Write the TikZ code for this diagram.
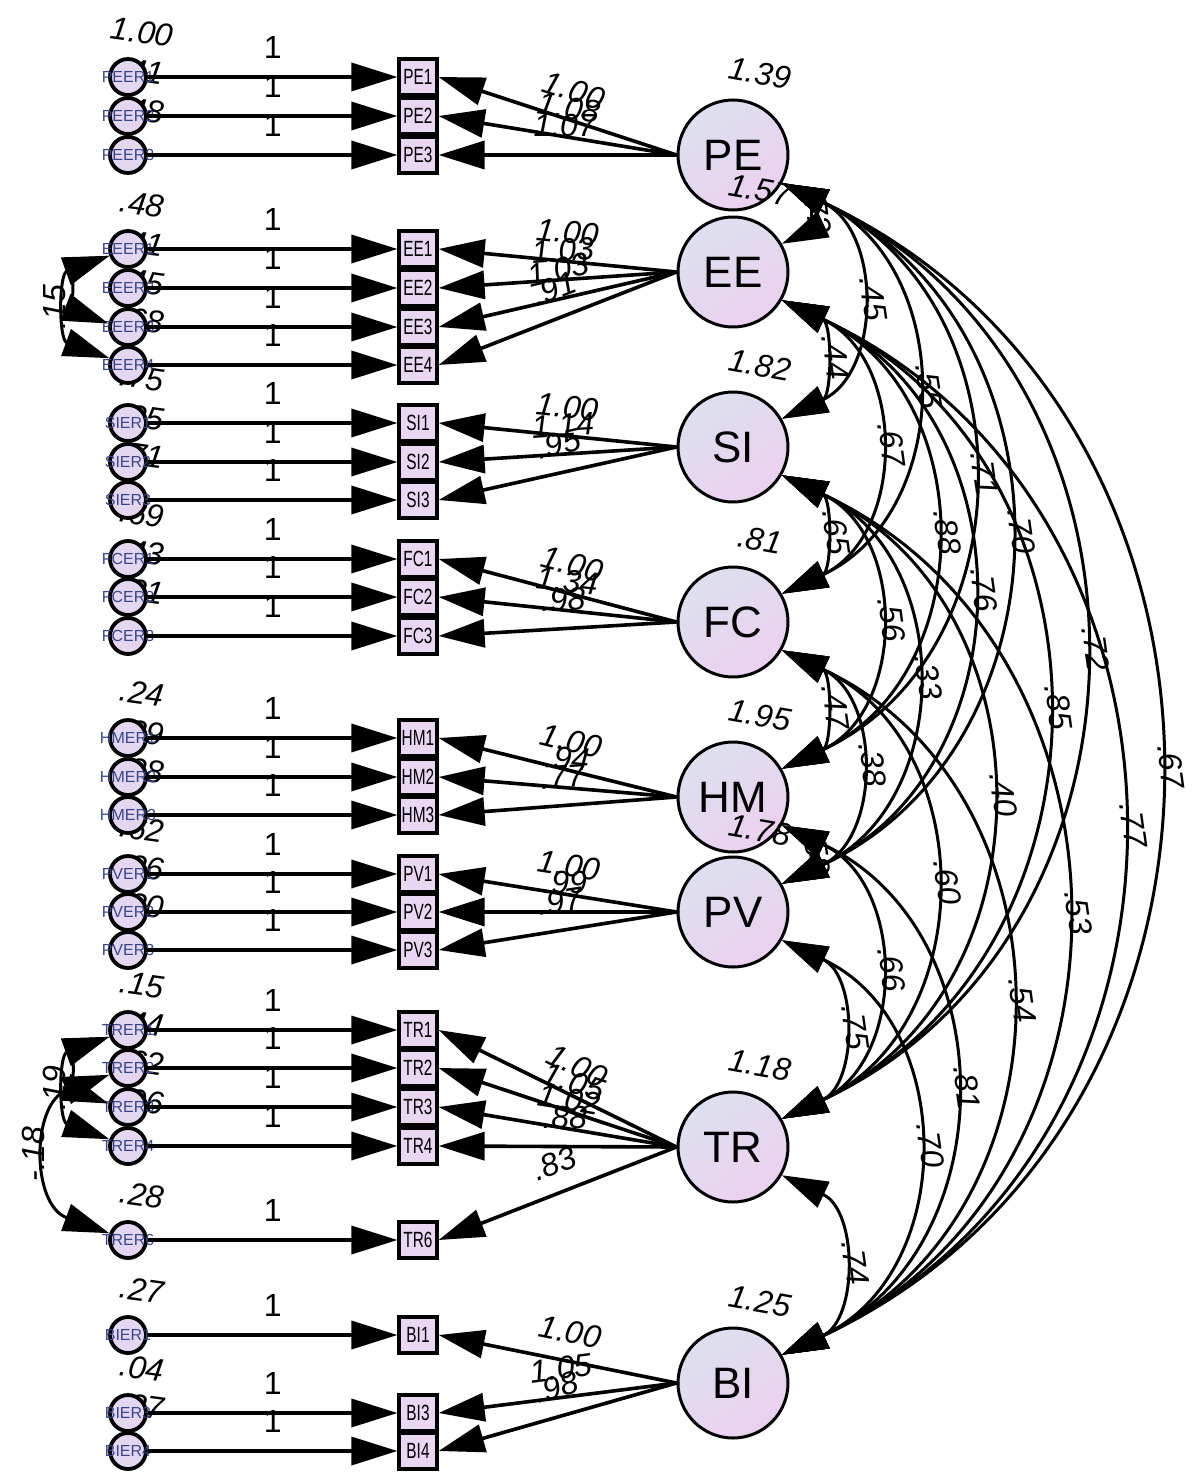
\documentclass[tikz,border=0pt]{standalone}
\usepackage{fontspec}
\setmainfont{Liberation Sans}
\usetikzlibrary{arrows.meta,positioning}

\definecolor{latA}{RGB}{220,224,238}
\definecolor{latB}{RGB}{236,208,240}
\definecolor{obsfill}{RGB}{232,214,242}
\definecolor{errfill}{RGB}{228,214,240}
\definecolor{errtext}{RGB}{55,70,140}

\newcommand{\est}{\fontsize{16}{16}\selectfont\itshape}

% indicator / error name / row / error variance
\newcommand{\items}{PE1/PEER1/77/1.00, PE2/PEER2/116/.41, PE3/PEER3/155/.48,
  EE1/EEER1/249/.48, EE2/EEER2/288/.41, EE3/EEER3/327/.45, EE4/EEER4/365/.68,
  SI1/SIER1/423/.75, SI2/SIER2/462/.25, SI3/SIER3/500/.71,
  FC1/FCER1/559/.69, FC2/FCER2/597/.43, FC3/FCER3/636/.31,
  HM1/HMER1/738/.24, HM2/HMER2/777/.39, HM3/HMER3/815/.28,
  PV1/PVER1/874/.62, PV2/PVER2/912/.36, PV3/PVER3/950/.30,
  TR1/TRER1/1030/.15, TR2/TRER2/1068/.44, TR3/TRER3/1107/.62, TR4/TRER4/1146/.96,
  TR6/TRER6/1240/.28,
  BI1/BIER1/1335/.27, BI3/BIER3/1413/.04, BI4/BIER4/1451/.37}

\tikzset{
  latent/.style={circle, draw, line width=1.5pt, minimum size=55pt, inner sep=0pt,
    top color=latA, bottom color=latB, shading angle=35,
    font=\fontsize{22}{22}\selectfont},
  obs/.style={rectangle, draw, line width=1.6pt, fill=obsfill, minimum width=19pt,
    minimum height=18pt, inner sep=0pt, font=\fontsize{11}{11}\selectfont},
  err/.style={circle, draw, line width=1.9pt, fill=errfill, minimum size=18pt, inner sep=0pt},
  errname/.style={font=\fontsize{8}{8}\selectfont, text=errtext, inner sep=0pt},
  meas/.style={->, line width=1.8pt},
  cov/.style={<->, line width=1.5pt, bend left=65, looseness=1.2},
  ecov/.style={<->, line width=1.5pt, bend right=70, looseness=1.35},
  one/.style={above=5pt, font=\fontsize{16}{16}\selectfont},
  ld/.style={pos=0.47, sloped, above=7pt, font=\est, inner sep=1pt},
  cl/.style={anchor=south, rotate=-82, font=\est, inner sep=2pt},
  el/.style={anchor=south, rotate=90, font=\est, inner sep=2pt},
  var/.style={font=\est, rotate=-10},
}

\begin{document}
\begin{tikzpicture}[x=0.5pt, y=-0.5pt, >={Triangle[length=23pt,width=14pt]}]
  \useasboundingbox (0,0) rectangle (1192,1483);

  % error variances sit under the error circles
  \foreach \ind/\en/\y/\ev in \items
    \node[var, rotate=2] at (142,\y-45) {\ev};

  % error terms and indicators
  \foreach \ind/\en/\y/\ev in \items {
    \node[err, label={[errname]center:\en}] (e\ind) at (128,\y) {};
    \node[obs] (\ind) at (418,\y) {\scalebox{0.7}[1]{\ind}};
    \draw[meas] (e\ind) -- node[one] {1} (\ind);
  }

  % latent factors
  \node[latent] (PE) at (733,155)  {PE};
  \node[latent] (EE) at (733,272)  {EE};
  \node[latent] (SI) at (733,447)  {SI};
  \node[latent] (FC) at (733,622)  {FC};
  \node[latent] (HM) at (733,797)  {HM};
  \node[latent] (PV) at (733,912)  {PV};
  \node[latent] (TR) at (733,1147) {TR};
  \node[latent] (BI) at (733,1383) {BI};

  \node[var] at ([shift={(27,-82)}]PE) {1.39};
  \node[var] at ([shift={(27,-82)}]EE) {1.57};
  \node[var] at ([shift={(27,-82)}]SI) {1.82};
  \node[var] at ([shift={(27,-82)}]FC) {.81};
  \node[var] at ([shift={(27,-82)}]HM) {1.95};
  \node[var] at ([shift={(27,-82)}]PV) {1.78};
  \node[var] at ([shift={(27,-82)}]TR) {1.18};
  \node[var] at ([shift={(27,-82)}]BI) {1.25};

  % loadings
  \path[meas] (PE.west) edge node[ld] {1.00} (PE1.east)
                        edge node[ld] {1.08} (PE2.east)
                        edge node[ld] {1.07} (PE3.east);
  \path[meas] (EE.west) edge node[ld] {1.00} (EE1.east)
                        edge node[ld] {1.03} (EE2.east)
                        edge node[ld] {1.03} (EE3.east)
                        edge node[ld] {.91}  (EE4.east);
  \path[meas] (SI.west) edge node[ld] {1.00} (SI1.east)
                        edge node[ld] {1.14} (SI2.east)
                        edge node[ld] {.95}  (SI3.east);
  \path[meas] (FC.west) edge node[ld] {1.00} (FC1.east)
                        edge node[ld] {1.34} (FC2.east)
                        edge node[ld] {.98}  (FC3.east);
  \path[meas] (HM.west) edge node[ld] {1.00} (HM1.east)
                        edge node[ld] {.94}  (HM2.east)
                        edge node[ld] {.77}  (HM3.east);
  \path[meas] (PV.west) edge node[ld] {1.00} (PV1.east)
                        edge node[ld] {.99}  (PV2.east)
                        edge node[ld] {.97}  (PV3.east);
  \path[meas] (TR.west) edge node[ld] {1.00} (TR1.east)
                        edge node[ld] {1.05} (TR2.east)
                        edge node[ld] {1.02} (TR3.east)
                        edge node[ld] {.88}  (TR4.east)
                        edge node[ld] {.83}  (TR6.east);
  \path[meas] (BI.west) edge node[ld] {1.00} (BI1.east)
                        edge node[ld] {1.05} (BI3.east)
                        edge node[ld] {.98}  (BI4.east);

  % error covariances
  \path (eEE1.200) edge[ecov] node[el] {.15} (eEE4.160)
        (eEE1.200) edge[ecov]               (eEE3.170);
  \path (eTR1.200) edge[ecov] node[el] {.19} (eTR4.160)
        (eTR1.200) edge[ecov]               (eTR3.170)
        (eTR2.200) edge[ecov] node[el] {-.18} (eTR6.160);

  % factor covariances
  \path (PE.-30) edge[cov] node[cl] {.72} (EE.30)
                 edge[cov] node[cl] {.45} (SI.30)
                 edge[cov] node[cl] {.55} (FC.30)
                 edge[cov] node[cl] {.71} (HM.30)
                 edge[cov] node[cl] {.70} (PV.30)
                 edge[cov] node[cl] {.72} (TR.30)
                 edge[cov] node[cl] {.67} (BI.30);
  \path (EE.-30) edge[cov] node[cl] {.44} (SI.30)
                 edge[cov] node[cl] {.67} (FC.30)
                 edge[cov] node[cl] {.88} (HM.30)
                 edge[cov] node[cl] {.76} (PV.30)
                 edge[cov] node[cl] {.85} (TR.30)
                 edge[cov] node[cl] {.77} (BI.30);
  \path (SI.-30) edge[cov] node[cl] {.65} (FC.30)
                 edge[cov] node[cl] {.56} (HM.30)
                 edge[cov] node[cl] {.33} (PV.30)
                 edge[cov] node[cl] {.40} (TR.30)
                 edge[cov] node[cl] {.53} (BI.30);
  \path (FC.-30) edge[cov] node[cl] {.47} (HM.30)
                 edge[cov] node[cl] {.38} (PV.30)
                 edge[cov] node[cl] {.60} (TR.30)
                 edge[cov] node[cl] {.54} (BI.30);
  \path (HM.-30) edge[cov] node[cl] {.58} (PV.30)
                 edge[cov] node[cl] {.66} (TR.30)
                 edge[cov] node[cl] {.81} (BI.30);
  \path (PV.-30) edge[cov] node[cl] {.75} (TR.30)
                 edge[cov] node[cl] {.70} (BI.30);
  \path (TR.-30) edge[cov] node[cl] {.74} (BI.30);
\end{tikzpicture}
\end{document}
